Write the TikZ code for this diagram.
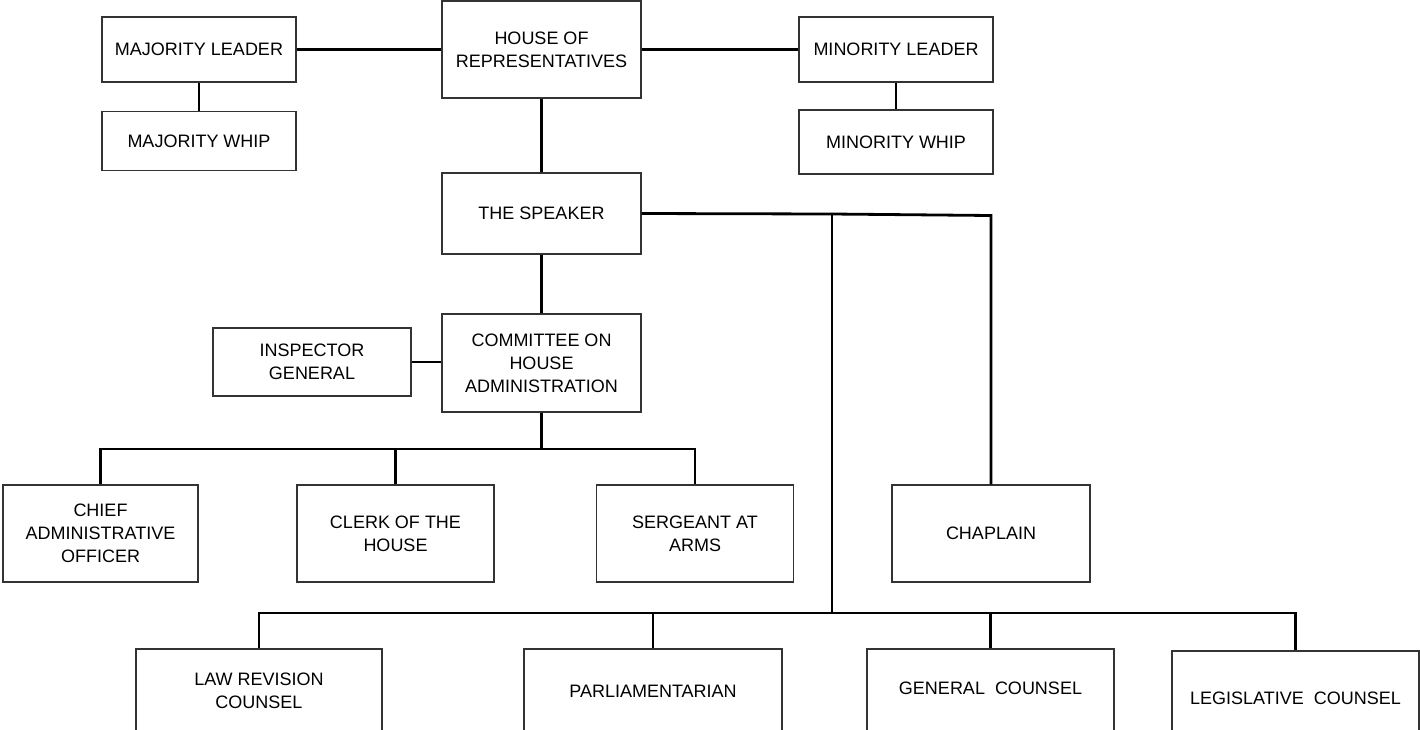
\documentclass[tikz,border=0pt]{standalone}
\usepackage{fontspec}
\setmainfont{Liberation Sans}
\begin{document}
\begin{tikzpicture}[x=1pt,y=-1pt,
  box/.style={draw=black!80, line width=1.4pt, align=center, inner sep=0pt,
    font=\fontsize{18}{23}\selectfont},
  txt/.style={align=center, inner sep=0pt, font=\fontsize{18}{23}\selectfont},
  conn/.style={line width=2.8pt, black}]
\useasboundingbox (0,0) rectangle (1420,729);
\clip (0,0) rectangle (1420,729);
% top row
\node[box, minimum width=194pt, minimum height=65pt] (maj) at (199,49.5) {MAJORITY LEADER};
\node[box, minimum width=194pt, minimum height=59pt] (majw) at (199,141) {MAJORITY WHIP};
\node[box, minimum width=199pt, minimum height=97pt] (house) at (541.5,49.5) {HOUSE OF\\REPRESENTATIVES};
\node[box, minimum width=194pt, minimum height=65pt] (minl) at (896,49.5) {MINORITY LEADER};
\node[box, minimum width=194pt, minimum height=64pt] (minw) at (896,142) {MINORITY WHIP};
\node[box, minimum width=199pt, minimum height=81pt] (speaker) at (541.5,213.5) {THE SPEAKER};
\node[box, minimum width=199pt, minimum height=98pt] (comm) at (541.5,363) {COMMITTEE ON\\HOUSE\\ADMINISTRATION};
\node[box, minimum width=198pt, minimum height=68pt] (insp) at (312,362) {INSPECTOR\\GENERAL};
% middle row
\node[box, minimum width=195pt, minimum height=97pt] (cao) at (100.5,533.5) {CHIEF\\ADMINISTRATIVE\\OFFICER};
\node[box, minimum width=197pt, minimum height=97pt] (clerk) at (395.5,533.5) {CLERK OF THE\\HOUSE};
\node[box, minimum width=197pt, minimum height=97pt] (serg) at (695,533.5) {SERGEANT AT\\ARMS};
\node[box, minimum width=198pt, minimum height=97pt] (chap) at (991,533.5) {CHAPLAIN};
% bottom row (cut off by the page edge)
\node[box, minimum width=246pt, minimum height=110pt] (lrc) at (259,704) {};
\node[box, minimum width=258pt, minimum height=110pt] (parl) at (653,704) {};
\node[box, minimum width=247pt, minimum height=110pt] (gc) at (990.5,704) {};
\node[box, minimum width=247pt, minimum height=110pt] (lc) at (1295.5,706) {};
\node[txt] (lrct) at (259,691) {LAW REVISION\\COUNSEL};
\node[txt] (parlt) at (653,691) {PARLIAMENTARIAN};
\node[txt] (gct) at (990.5,688) {GENERAL\ \ COUNSEL};
\node[txt] (lct) at (1295.5,698) {LEGISLATIVE\ \ COUNSEL};
% connectors
\draw[conn] (maj.east) -- (house.west);
\draw[conn] (house.east) -- (minl.west);
\draw[conn] (maj.south) -- (majw.north);
\draw[conn] (minl.south) -- (minw.north);
\draw[conn] (house.south) -- (speaker.north);
\draw[conn] (speaker.south) -- (comm.north);
\draw[conn] (insp.east) -- (insp.east -| comm.west);
\coordinate (bus1) at (541.5,449);
\draw[conn] (comm.south) -- (comm.south |- bus1);
\draw[conn] (cao.north) |- (serg.north |- bus1) -- (serg.north);
\draw[conn] (clerk.north) -- (clerk.north |- bus1);
\coordinate (hub) at (832,214);
\coordinate (bus2) at (832,613);
\draw[conn] (speaker.east) -- (hub) -- ([yshift=-2pt]chap.north |- speaker.east) -- (chap.north);
\draw[conn] (hub) -- (bus2);
\draw[conn] (lrc.north) |- (lc.north |- bus2) -- (lc.north);
\draw[conn] (parl.north) -- (parl.north |- bus2);
\draw[conn] (gc.north) -- (gc.north |- bus2);
\end{tikzpicture}
\end{document}
